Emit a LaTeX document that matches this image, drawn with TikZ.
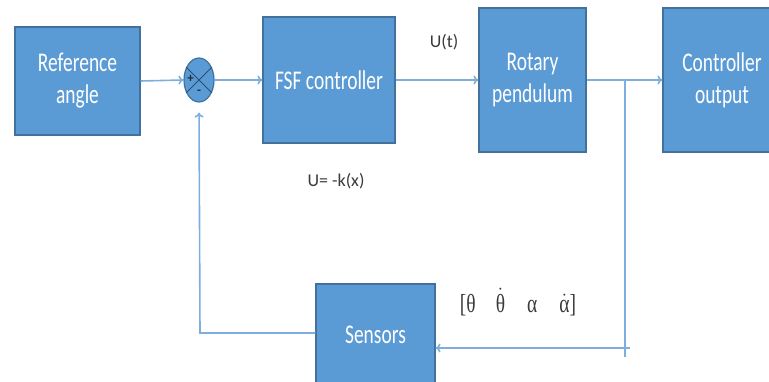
\documentclass[tikz,border=0pt]{standalone}
\usepackage{fontspec}
\usetikzlibrary{shapes.geometric,arrows.meta}
\newfontfamily\boxfont[FakeStretch=0.72]{Carlito}
\newfontfamily\labfont{Carlito}
\newfontfamily\serfont[FakeStretch=0.75]{Liberation Serif}
\definecolor{boxfill}{HTML}{5B9BD5}
\definecolor{boxline}{HTML}{41719C}
\definecolor{wire}{HTML}{7EAEDD}
\definecolor{labtext}{HTML}{3A3A3A}
\newcommand{\dotsym}[1]{$\dot{\hbox{#1}}$}
\tikzset{
  blk/.style={draw=boxline,fill=boxfill,line width=1.2pt,text=white,
    font=\boxfont\fontsize{27}{32}\selectfont,align=center,inner sep=0pt},
  wireline/.style={draw=wire,line width=1.6pt},
  arr/.style={wireline,-{To[length=5pt,width=9pt]}},
  lab/.style={text=labtext,font=\labfont\fontsize{18}{22}\selectfont,inner sep=0pt},
  sign/.style={text=boxline!40!black,font=\labfont\bfseries\fontsize{13}{13}\selectfont,inner sep=0pt}
}
\begin{document}
\begin{tikzpicture}[x=1pt,y=-1pt]
\useasboundingbox (0,0) rectangle (769,382);
\node[blk,minimum width=125pt,minimum height=108pt] (ref) at (77.5,81) {Reference\\angle};
\node[draw=boxline,fill=boxfill,line width=1.2pt,ellipse,minimum width=30pt,minimum height=44pt,inner sep=0pt] (sum) at (199,80) {};
\draw[boxline!70!black,line width=1pt] (sum.45) -- (sum.225) (sum.135) -- (sum.315);
\node[sign] (plus) at (190.5,79) {+};
\node[sign] (minus) at (199,92) {-};
\node[blk,minimum width=132pt,minimum height=126pt] (fsf) at (329,80) {FSF controller};
\node[blk,minimum width=107pt,minimum height=144pt] (rot) at (532.5,80) {Rotary\\pendulum};
\node[blk,minimum width=118pt,minimum height=144pt] (out) at (722,80) {Controller\\output};
\node[blk,minimum width=119pt,minimum height=102pt] (sens) at (375.5,335) {Sensors};
\node[lab] (ut) at (444,42) {U(t)};
\node[lab] (uk) at (336,181) {U= -k(x)};
\node[text=labtext,font=\serfont\fontsize{26}{30}\selectfont,inner sep=0pt] (vec) at (518,302)
  {[θ\hspace{20pt}\dotsym{θ}\hspace{22pt}α\hspace{22pt}\dotsym{α}]};
\coordinate (b1) at (625,80);
\coordinate (b2) at (625,357);
\coordinate (a1) at (630,348);
\coordinate (fb) at (200,333);
\draw[arr] (ref.east) -- (sum.west);
\draw[arr] (sum.east) -- (fsf.west);
\draw[arr] (fsf.east) -- (rot.west);
\draw[arr] (rot.east) -- (out.west);
\draw[wireline] (b1) -- (b2);
\draw[arr] (a1) -- (sens.east |- a1);
\draw[arr,shorten >=10pt] (sens.west |- fb) -- (fb) -- (sum.south);
\end{tikzpicture}
\end{document}
